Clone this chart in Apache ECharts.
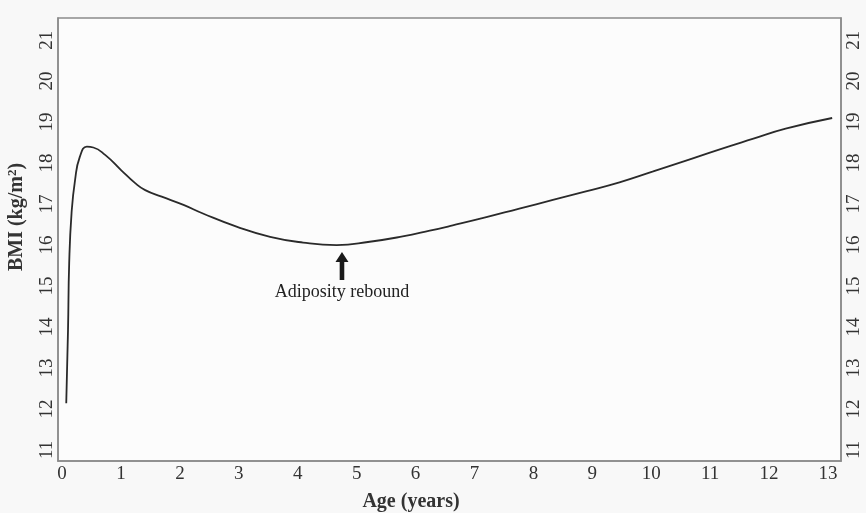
<!DOCTYPE html>
<html>
<head>
<meta charset="utf-8">
<script src="https://cdn.jsdelivr.net/npm/echarts@6/dist/echarts.min.js"></script>
<style>html,body{margin:0;padding:0;background:#f8f8f8}#c{width:866px;height:513px}</style>
</head>
<body>
<div id="c"></div>
<script>
const ages = [0.07, 0.10, 0.12, 0.16, 0.22, 0.30, 0.42, 0.53, 0.73, 1.0, 1.24, 1.41, 1.69, 2.06, 2.39, 2.96, 3.53, 4.09, 4.66, 5.22, 5.78, 6.24, 6.63, 7.20, 7.76, 8.33, 8.89, 9.46, 10.02, 10.59, 11.15, 11.72, 12.28, 13.07];
const bmi = [12.14, 13.93, 15.56, 16.78, 17.59, 18.15, 18.40, 18.38, 18.20, 17.83, 17.51, 17.34, 17.18, 16.98, 16.77, 16.45, 16.20, 16.06, 16.00, 16.08, 16.21, 16.35, 16.48, 16.68, 16.89, 17.10, 17.31, 17.53, 17.79, 18.06, 18.33, 18.59, 18.84, 19.10];
const xTicks = [0,1,2,3,4,5,6,7,8,9,10,11,12,13];
const yTicks = [11,12,13,14,15,16,17,18,19,20,21];
const reboundAge = 4.75;
const reboundArrowBMI = 15.49;
const annotationText = 'Adiposity rebound';

const font = '"Liberation Serif", "Times New Roman", serif';
const chart = echarts.init(document.getElementById('c'), null, {renderer: 'canvas'});
const yAxisCommon = {
  type: 'value', min: 10.73, max: 21.54,
  axisLine: {show: true, onZero: false, lineStyle: {color: '#8a8a8a', width: 1.5}},
  axisTick: {show: false},
  splitLine: {show: false},
  axisLabel: {customValues: yTicks, rotate: 90, color: '#333', fontFamily: font, fontSize: 19, margin: 1}
};
chart.setOption({
  backgroundColor: '#f8f8f8',
  animation: false,
  grid: {left: 58, right: 25, top: 18, bottom: 52, containLabel: false, outerBoundsMode: 'none',
    show: true, borderColor: '#8a8a8a', borderWidth: 1.5, backgroundColor: '#fcfcfc'},
  xAxis: {
    type: 'value', min: -0.07, max: 13.22,
    axisLine: {show: true, onZero: false, lineStyle: {color: '#8a8a8a', width: 1.5}},
    axisTick: {show: false},
    splitLine: {show: false},
    axisLabel: {customValues: xTicks, color: '#333', fontFamily: font, fontSize: 19, margin: 4},
    name: 'Age (years)', nameLocation: 'middle', nameGap: 31,
    nameTextStyle: {fontFamily: font, fontSize: 20, fontWeight: 'bold', color: '#333', padding: [0, 77, 0, 0]}
  },
  yAxis: [
    Object.assign({}, yAxisCommon, {
      position: 'left',
      name: 'BMI (kg/m{sup|2})', nameLocation: 'middle', nameGap: 30,
      nameTextStyle: {fontFamily: font, fontSize: 20, fontWeight: 'bold', color: '#333', padding: [0, 0, 0, 45],
        rich: {sup: {fontFamily: font, fontSize: 13, fontWeight: 'bold', color: '#333', verticalAlign: 'top', padding: [0, 0, 9, 0]}}}
    }),
    Object.assign({}, yAxisCommon, {position: 'right', axisLabel: Object.assign({}, yAxisCommon.axisLabel, {margin: 4})})
  ],
  series: [{
    type: 'line',
    data: ages.map((a, i) => [a, bmi[i]]),
    showSymbol: false,
    smooth: 0.5,
    lineStyle: {color: '#2a2a2a', width: 1.8},
    markPoint: {
      silent: true,
      data: [{
        coord: [reboundAge, reboundArrowBMI],
        symbol: 'path://M6.5,0 L13,10 L8.8,10 L8.8,28 L4.2,28 L4.2,10 L0,10 Z',
        symbolSize: [13, 28],
        itemStyle: {color: '#1a1a1a'},
        label: {show: true, position: 'bottom', distance: 3, formatter: annotationText,
          fontFamily: font, fontSize: 18, color: '#222'}
      }]
    }
  }]
});
</script>
</body>
</html>
